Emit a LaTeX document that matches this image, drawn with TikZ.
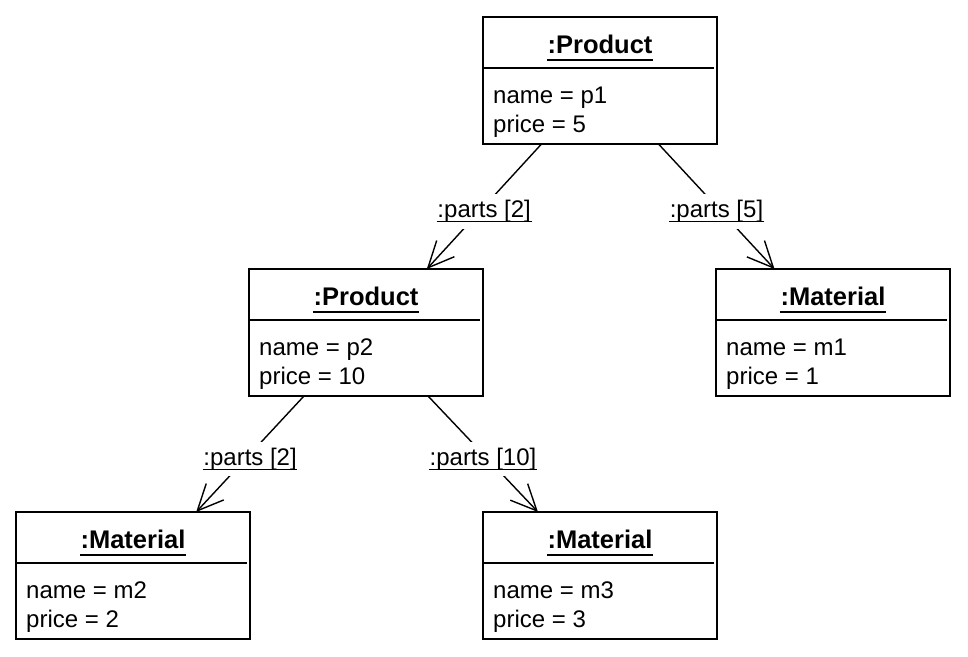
\documentclass[tikz,border=0pt]{standalone}
\usepackage{fontspec}
\setmainfont{Liberation Sans}
\usetikzlibrary{arrows.meta,calc}

\tikzset{
  obj/.style={draw, line width=1.5pt, minimum width=234pt, minimum height=127pt, anchor=north west, inner sep=0pt, outer sep=0pt},
  ttl/.style={font=\fontsize{25.5}{30}\selectfont\bfseries, anchor=base, inner sep=0pt},
  attr/.style={font=\fontsize{24}{29}\selectfont, anchor=base west, inner sep=0pt},
  lnk/.style={line width=1.4pt, -{Straight Barb[length=26pt,width=24pt,line width=1.4pt]}},
  lbl/.style={font=\fontsize{24}{29}\selectfont, fill=white, inner sep=6pt, yshift=-5pt},
  uline/.style={line width=1.3pt},
  sep/.style={line width=1.5pt}
}

\newcommand\objbox[6]{%
  \node[obj] (#1) at (#2,#3) {};
  \draw[sep] ($(#1.north west)+(0,51)$) -- ($(#1.north east)+(-3,51)$);
  \node[ttl] (#1t) at ($(#1.north)+(0,36)$) {#4};
  \draw[uline] ($(#1t.base west)+(0,7)$) -- ($(#1t.base east)+(0,7)$);
  \node[attr] (#1n) at ($(#1.north west)+(10,86)$) {name = #5};
  \node[attr] (#1p) at ($(#1.north west)+(10,115)$) {price = #6};
}

\begin{document}
\begin{tikzpicture}[x=1pt,y=-1pt]
\useasboundingbox (0,0) rectangle (968,656);

\objbox{P1}{483}{17}{:Product}{p1}{5}
\objbox{P2}{249}{269}{:Product}{p2}{10}
\objbox{M1}{716}{269}{:Material}{m1}{1}
\objbox{M2}{16}{512}{:Material}{m2}{2}
\objbox{M3}{483}{512}{:Material}{m3}{3}

\draw[lnk] ($(P1.south west)!0.25!(P1.south east)$) -- node[lbl] (L1) {:parts [2]} ($(P2.north west)!0.76!(P2.north east)$);
\draw[lnk] ($(P1.south west)!0.75!(P1.south east)$) -- node[lbl] (L2) {:parts [5]} ($(M1.north west)!0.25!(M1.north east)$);
\draw[lnk] ($(P2.south west)!0.235!(P2.south east)$) -- node[lbl] (L3) {:parts [2]} ($(M2.north west)!0.77!(M2.north east)$);
\draw[lnk] ($(P2.south west)!0.765!(P2.south east)$) -- node[lbl] (L4) {:parts [10]} ($(M3.north west)!0.235!(M3.north east)$);

\foreach \l in {L1,L2,L3,L4}{
  \draw[uline] ($(\l.base west)+(6,4)$) -- ($(\l.base east)+(-6,4)$);
}
\end{tikzpicture}
\end{document}
